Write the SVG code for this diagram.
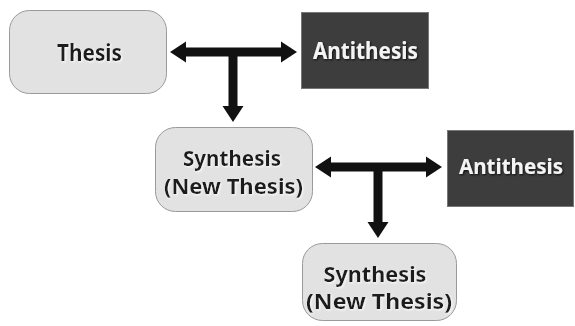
<svg xmlns="http://www.w3.org/2000/svg" width="575" height="326" viewBox="0 0 575 326">
  <defs>
    <filter id="shDark" x="-10%" y="-20%" width="130%" height="150%">
      <feDropShadow dx="1" dy="1" stdDeviation="0.8" flood-color="#000" flood-opacity="0.8"/>
    </filter>
    <filter id="shLight" x="-10%" y="-20%" width="130%" height="150%">
      <feDropShadow dx="1" dy="1" stdDeviation="0.8" flood-color="#fff" flood-opacity="0.9"/>
    </filter>
  </defs>
  <style>
    .soft { fill: #e2e2e2; stroke: #9a9a9a; stroke-width: 1; }
    .dark { fill: #3d3d3d; stroke: #777; stroke-width: 1; }
    .t { font-family: "Noto Sans", "Open Sans", sans-serif; font-weight: bold; text-anchor: middle; }
    .td { fill: #1c1c1c; filter: url(#shLight); }
    .tw { fill: #f4f4f4; filter: url(#shDark); }
    .arrow { fill: #111; }
  </style>
  <rect width="575" height="326" fill="#fff"/>

  <g id="connectors">
    <polygon class="arrow" points="170,52 186,41.5 186,47.5 281,47.5 281,41.5 297,52 281,62.5 281,56.5 237.5,56.5 237.5,106 243.5,106 233,122 222.5,106 228.5,106 228.5,56.5 186,56.5 186,62.5"/>
    <polygon class="arrow" points="315,167 331,156.5 331,162.5 426,162.5 426,156.5 442,167 426,177.5 426,171.5 382.5,171.5 382.5,222 388.5,222 378,238 367.5,222 373.5,222 373.5,171.5 331,171.5 331,177.5"/>
  </g>

  <g id="thesis">
    <rect class="soft" x="9.5" y="10.5" width="157" height="83" rx="20" ry="20"/>
    <text class="t td" x="89.5" y="61" font-size="24" textLength="65" lengthAdjust="spacingAndGlyphs">Thesis</text>
  </g>

  <g id="antithesis1">
    <rect class="dark" x="301.5" y="12.5" width="127" height="76"/>
    <text class="t tw" x="365.5" y="59" font-size="23" textLength="105" lengthAdjust="spacingAndGlyphs">Antithesis</text>
  </g>

  <g id="synthesis1">
    <rect class="soft" x="155.5" y="127.5" width="157" height="84" rx="20" ry="20"/>
    <text class="t td" x="232" y="166" font-size="22" textLength="98" lengthAdjust="spacingAndGlyphs">Synthesis</text>
    <text class="t td" x="233.5" y="194" font-size="22" textLength="139" lengthAdjust="spacingAndGlyphs">(New Thesis)</text>
  </g>

  <g id="antithesis2">
    <rect class="dark" x="447.5" y="130.5" width="126" height="76"/>
    <text class="t tw" x="511" y="174" font-size="22" textLength="104" lengthAdjust="spacingAndGlyphs">Antithesis</text>
  </g>

  <g id="synthesis2">
    <rect class="soft" x="302.5" y="243.5" width="154" height="77" rx="20" ry="20"/>
    <text class="t td" x="375" y="282" font-size="22" textLength="103" lengthAdjust="spacingAndGlyphs">Synthesis</text>
    <text class="t td" x="379" y="309" font-size="22" textLength="146" lengthAdjust="spacingAndGlyphs">(New Thesis)</text>
  </g>
</svg>
